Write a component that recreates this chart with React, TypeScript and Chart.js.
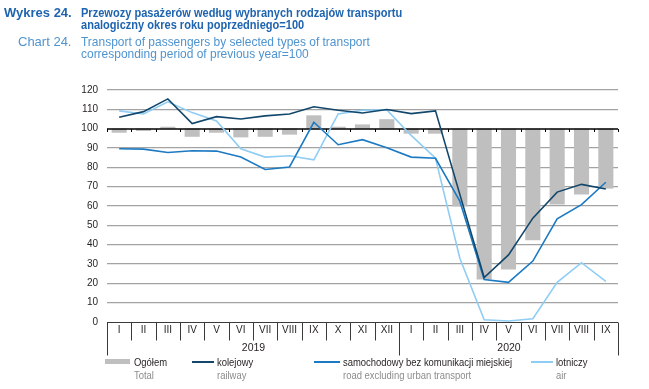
import React, { useEffect, useRef } from 'react';
import { Chart, registerables } from 'chart.js';

Chart.register(...registerables);

const months = ['I', 'II', 'III', 'IV', 'V', 'VI', 'VII', 'VIII', 'IX', 'X', 'XI', 'XII', 'I', 'II', 'III', 'IV', 'V', 'VI', 'VII', 'VIII', 'IX'];
const yearLabels = ['2019', '2020'];
const yearMonthCounts = [12, 9];

const total = [97.9, 98.8, 101, 95.8, 97.9, 95.5, 95.8, 96.9, 106.9, 101, 102.2, 104.9, 97.4, 97.4, 59.8, 22, 27.2, 42.3, 60.8, 66, 69];
const railway = [105.9, 108.8, 115.4, 102.6, 106.2, 105, 106.6, 107.6, 111.3, 109.5, 108.1, 109.9, 107.8, 109.2, 66, 23, 34.7, 53.7, 67.2, 71.2, 68.8];
const road = [89.6, 89.4, 87.7, 88.6, 88.4, 85.3, 78.9, 80.2, 103.3, 91.7, 94.3, 90.1, 85.3, 84.7, 62.5, 22, 20.5, 31.5, 53.4, 60.7, 72.3];
const air = [109.2, 107.6, 113.9, 108.3, 104, 89.6, 85.3, 86, 83.9, 107.6, 109.5, 109.7, 96.5, 84.8, 33, 1.2, 0.5, 1.7, 20.5, 30.7, 21];

const Y_MIN = 0;
const Y_MAX = 120;
const Y_STEP = 10;
const BASELINE = 100;

const FONT = '"Liberation Sans Narrow", "Liberation Sans", Arial, sans-serif';
const C_RAIL = '#12476B';
const C_ROAD = '#1C7AC3';
const C_AIR = '#8FCDF4';
const C_BAR = '#BFBFBF';
const C_TEXT = '#231F20';

const decorPlugin = {
  id: 'decor',
  afterDatasetDraw(chart: any, args: any) {
    if (args.meta.type !== 'bar') return;
    const { ctx, chartArea } = chart;
    const y = chart.scales.y;
    const n = months.length;
    const yb = Math.round(y.getPixelForValue(BASELINE));
    ctx.save();
    ctx.strokeStyle = '#000';
    ctx.lineWidth = 1.5;
    ctx.beginPath();
    ctx.moveTo(chartArea.left, yb);
    ctx.lineTo(chartArea.right, yb);
    ctx.stroke();
    ctx.lineWidth = 1;
    ctx.beginPath();
    for (let i = 0; i <= n; i++) {
      const x = Math.round(chartArea.left + (i * (chartArea.right - chartArea.left)) / n) + 0.5;
      ctx.moveTo(x, yb);
      ctx.lineTo(x, yb + 3);
    }
    ctx.stroke();
    ctx.restore();
  },
  afterDraw(chart: any) {
    const { ctx, chartArea } = chart;
    const y = chart.scales.y;
    const x = chart.scales.x;
    const n = months.length;
    const y0 = Math.round(y.getPixelForValue(Y_MIN)) + 0.5;
    const bx = (i: number) => Math.round(chartArea.left + (i * (chartArea.right - chartArea.left)) / n) + 0.5;
    ctx.save();
    ctx.strokeStyle = '#3a3a3a';
    ctx.lineWidth = 1;
    ctx.beginPath();
    ctx.moveTo(chartArea.left, y0);
    ctx.lineTo(chartArea.right, y0);
    ctx.stroke();
    const yearBounds: number[] = [0];
    yearMonthCounts.forEach((c) => yearBounds.push(yearBounds[yearBounds.length - 1] + c));
    ctx.beginPath();
    for (let i = 0; i <= n; i++) {
      const isYear = yearBounds.indexOf(i) >= 0;
      ctx.moveTo(bx(i), y0);
      ctx.lineTo(bx(i), y0 + (isYear ? 33 : 18));
    }
    ctx.stroke();
    ctx.fillStyle = C_TEXT;
    ctx.font = '10px ' + FONT;
    ctx.textAlign = 'center';
    ctx.textBaseline = 'middle';
    months.forEach((m, i) => {
      ctx.fillText(m, x.getPixelForValue(i), y0 + 8);
    });
    ctx.font = '10.5px ' + FONT;
    yearLabels.forEach((lab, k) => {
      const a = bx(yearBounds[k]);
      const b = bx(yearBounds[k + 1]);
      ctx.fillText(lab, (a + b) / 2, y0 + 26);
    });
    ctx.restore();
  },
};

export default function App() {
  const ref = useRef<HTMLCanvasElement | null>(null);
  useEffect(() => {
    if (!ref.current) return;
    const chart = new Chart(ref.current, {
      type: 'bar',
      data: {
        labels: months,
        datasets: [
          { type: 'line', label: 'kolejowy', data: railway, borderColor: C_RAIL, borderWidth: 1.6, pointRadius: 0, tension: 0, order: 0 } as any,
          { type: 'line', label: 'samochodowy', data: road, borderColor: C_ROAD, borderWidth: 1.6, pointRadius: 0, tension: 0, order: 1 } as any,
          { type: 'line', label: 'lotniczy', data: air, borderColor: C_AIR, borderWidth: 1.6, pointRadius: 0, tension: 0, order: 2 } as any,
          {
            type: 'bar',
            label: 'Ogółem',
            data: total.map((v) => [BASELINE, v]),
            backgroundColor: C_BAR,
            borderWidth: 0,
            barPercentage: 0.62,
            categoryPercentage: 1,
            order: 3,
          } as any,
        ],
      },
      options: {
        responsive: false,
        animation: false,
        devicePixelRatio: 1,
        layout: { padding: { left: 0, right: 31, top: 90, bottom: 67 } },
        plugins: { legend: { display: false }, tooltip: { enabled: false } },
        scales: {
          x: { type: 'category', display: false, offset: true },
          y: {
            min: Y_MIN,
            max: Y_MAX,
            afterFit: (s: any) => {
              s.width = 107;
            },
            ticks: { stepSize: Y_STEP, padding: 9, color: C_TEXT, font: { family: FONT, size: 10 } },
            grid: {
              drawTicks: false,
              color: (c: any) => (c.tick && (c.tick.value === BASELINE || c.tick.value === Y_MIN) ? 'rgba(0,0,0,0)' : '#A3A3A3'),
              lineWidth: 1.3,
            },
            border: { display: false },
          },
        },
      } as any,
      plugins: [decorPlugin],
    });
    return () => chart.destroy();
  }, []);

  const abs = (left: number, top: number, extra: any = {}, sx = 1) => ({
    position: 'absolute' as const,
    left,
    top,
    whiteSpace: 'nowrap' as const,
    fontFamily: FONT,
    transform: sx !== 1 ? `scaleX(${sx})` : undefined,
    transformOrigin: 'left top',
    ...extra,
  });
  const titleDark = { fontSize: 13, lineHeight: '12px', fontWeight: 700, color: '#1F64AE' };
  const titleLight = { fontSize: 13, lineHeight: '12px', fontWeight: 400, color: '#4F94CF' };
  const legTop = { fontSize: 10.5, lineHeight: '12px', color: C_TEXT };
  const legBot = { fontSize: 10.5, lineHeight: '12px', color: '#8C8C8C' };
  const LS = 0.9;

  return (
    <div style={{ position: 'fixed', left: 0, top: 0, width: 649, height: 389, background: '#fff', overflow: 'hidden' }}>
      <canvas ref={ref} width={649} height={389} style={{ position: 'absolute', left: 0, top: 0, display: 'block' }} />
      <div style={abs(4, 7, titleDark)}>Wykres 24.</div>
      <div style={abs(81, 7, titleDark, 0.85)}>
        Przewozy pasażerów według wybranych rodzajów transportu
        <br />
        analogiczny okres roku poprzedniego=100
      </div>
      <div style={abs(18, 36, titleLight)}>Chart 24.</div>
      <div style={abs(81, 36, titleLight, 0.92)}>
        Transport of passengers by selected types of transport
        <br />
        corresponding period of previous year=100
      </div>

      <div style={abs(105, 359, { width: 25, height: 5, background: C_BAR })} />
      <div style={abs(134, 356, legTop, LS)}>Ogółem</div>
      <div style={abs(134, 369, legBot, LS)}>Total</div>

      <div style={abs(192, 361, { width: 22, height: 2, background: C_RAIL })} />
      <div style={abs(217, 356, legTop, LS)}>kolejowy</div>
      <div style={abs(217, 369, legBot, LS)}>railway</div>

      <div style={abs(314, 361, { width: 26, height: 2, background: C_ROAD })} />
      <div style={abs(343, 356, legTop, LS)}>samochodowy bez komunikacji miejskiej</div>
      <div style={abs(343, 369, legBot, LS)}>road excluding urban transport</div>

      <div style={abs(531, 361, { width: 22, height: 2, background: C_AIR })} />
      <div style={abs(556, 356, legTop, LS)}>lotniczy</div>
      <div style={abs(556, 369, legBot, LS)}>air</div>
    </div>
  );
}
